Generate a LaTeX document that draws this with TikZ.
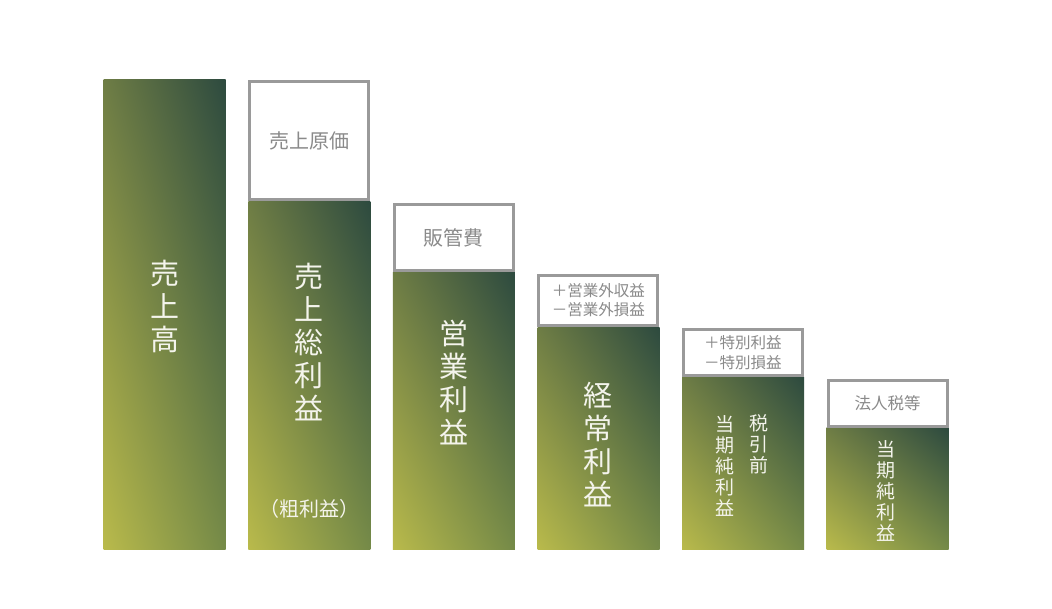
\documentclass[tikz,border=0pt]{standalone}
\usepackage{fontspec}
\usetikzlibrary{shadings}
\newfontfamily\jp{Noto Sans CJK JP}
\definecolor{gdark}{HTML}{2D4A3F}
\definecolor{gyel}{HTML}{B9BA4B}
\definecolor{gmidA}{HTML}{6E7D45}
\definecolor{gmidB}{HTML}{758A48}
\definecolor{boxgray}{HTML}{9A9A9A}
\definecolor{boxtext}{HTML}{8A8A8A}
\definecolor{bartext}{HTML}{F4F4EC}
\tikzset{
  bar/.style={shade, upper right=gdark, lower left=gyel, upper left=gmidA, lower right=gmidB,
    minimum width=122pt, inner sep=0pt, anchor=north west},
  costbox/.style={draw=boxgray, line width=3pt, fill=white, minimum width=119pt,
    inner sep=0pt, align=center, text=boxtext, font=\jp\fontsize{17}{20}\selectfont},
  vtext/.style={text=bartext, align=center, inner sep=0pt},
  big/.style={font=\jp\fontsize{29}{33}\selectfont},
  small/.style={font=\jp\fontsize{19}{21}\selectfont}
}
\begin{document}
\begin{tikzpicture}[x=1pt,y=-1pt]
\useasboundingbox[fill=white] (0,0) rectangle (1052,609);
% bars
\node[bar, minimum height=469.5pt] (bar1) at (103.5,79.5) {};
\node[bar, minimum height=348pt] (bar2) at (248.1,201) {};
\node[bar, minimum height=277pt] (bar3) at (392.7,272) {};
\node[bar, minimum height=222pt] (bar4) at (537.3,327) {};
\node[bar, minimum height=171.5pt] (bar5) at (681.9,377.5) {};
\node[bar, minimum height=121.5pt] (bar6) at (826.5,427.5) {};
% cost boxes
\node[costbox, minimum height=118pt, font=\jp\fontsize{20}{22}\selectfont] (box2) at (309.1,140.5) {売上原価};
\node[costbox, minimum height=66pt, font=\jp\fontsize{20}{22}\selectfont] (box3) at (453.7,237.5) {販管費};
\node[costbox, minimum height=50pt, font=\jp\fontsize{15.5}{19}\selectfont] (box4) at (598.3,300.5) {＋営業外収益\\－営業外損益};
\node[costbox, minimum height=46.5pt, font=\jp\fontsize{15.5}{20}\selectfont] (box5) at (742.9,352.75) {＋特別利益\\－特別損益};
\node[costbox, minimum height=45.5pt, font=\jp\fontsize{16.5}{20}\selectfont] (box6) at (887.5,403.25) {法人税等};
% bar labels
\node[vtext, big] (t1) at (164.75,306) {売\\上\\高};
\node[vtext, big] (t2) at (309.1,342) {売\\上\\総\\利\\益};
\node[vtext, font=\jp\fontsize{20}{22}\selectfont] (t2b) at (309.1,509) {（粗利益）};
\node[vtext, big] (t3) at (453.7,382.5) {営\\業\\利\\益};
\node[vtext, big] (t4) at (598.3,444.5) {経\\常\\利\\益};
\node[vtext, small] (t5a) at (725,465.5) {当\\期\\純\\利\\益};
\node[vtext, small] (t5b) at (759,444) {税\\引\\前};
\node[vtext, small] (t6) at (885.7,490.5) {当\\期\\純\\利\\益};
\end{tikzpicture}
\end{document}
